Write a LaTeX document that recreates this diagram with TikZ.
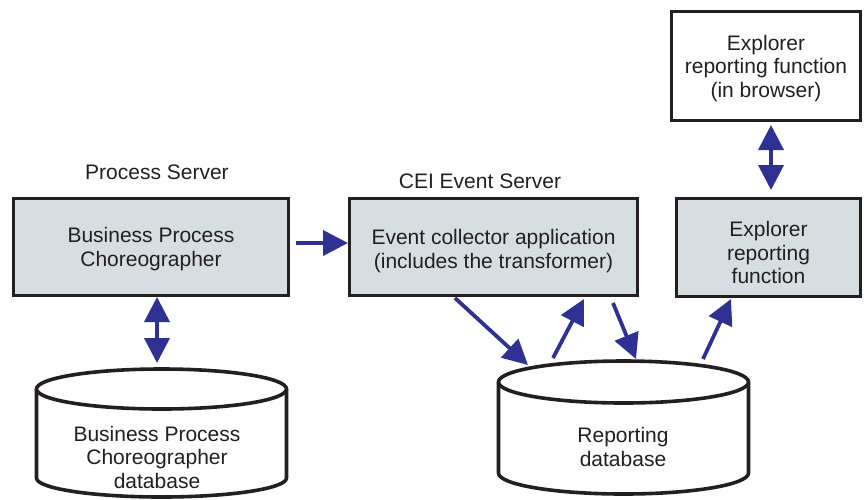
\documentclass[tikz,border=0pt]{standalone}
\usepackage{fontspec}
\setmainfont{Liberation Sans}
\usetikzlibrary{arrows.meta}
\definecolor{boxfill}{HTML}{D7DEE2}
\definecolor{arrowblue}{HTML}{2E3192}
\definecolor{ink}{HTML}{231F20}
\tikzset{
  box/.style={draw=ink, line width=3.6pt, rectangle, align=center, text=ink,
    font=\fontsize{21}{23.5}\selectfont, inner sep=0pt},
  grey/.style={fill=boxfill},
  lbl/.style={text=ink, font=\fontsize{21}{23.5}\selectfont, inner sep=0pt},
  flow/.style={draw=arrowblue, line width=3.8pt, -{Triangle[length=25pt,width=25pt]}, fill=arrowblue},
  dflow/.style={draw=arrowblue, line width=3.8pt, {Triangle[length=25pt,width=25pt]}-{Triangle[length=25pt,width=25pt]}},
  cyl/.style={draw=ink, line width=3.6pt, fill=white}
}
\begin{document}
\begin{tikzpicture}[x=1pt,y=-1pt]
\useasboundingbox (0,0) rectangle (864,499);

% boxes
\node[box,grey,minimum width=275pt,minimum height=97pt] (bpc) at (151,247) {\rule{0pt}{19.5pt}Business Process\\Choreographer};
\node[box,grey,minimum width=288pt,minimum height=97pt] (ec) at (493.5,247) {\rule{0pt}{23.5pt}Event collector application\\(includes the transformer)};
\node[box,grey,minimum width=184pt,minimum height=98pt] (erf) at (768.5,247.5) {\rule{0pt}{25.5pt}Explorer\\reporting\\function};
\node[box,minimum width=189pt,minimum height=109pt] (erb) at (766,66) {\rule{0pt}{19.5pt}Explorer\\reporting function\\(in browser)};

\node[lbl] (ps) at (157,172) {Process Server};
\node[lbl] (cei) at (480,181) {CEI Event Server};

% cylinder 1
\draw[cyl] (36.5,389) -- (36.5,478) arc[start angle=180,end angle=0,x radius=125,y radius=19] -- (286.5,389);
\draw[cyl] (161.5,389) ellipse[x radius=125,y radius=20];
\node[lbl,align=center] (db1) at (157,457) {Business Process\\Choreographer\\database};

% cylinder 2
\draw[cyl] (498.5,382) -- (498.5,473) arc[start angle=180,end angle=0,x radius=125,y radius=21] -- (748.5,382);
\draw[cyl] (623.5,382) ellipse[x radius=125,y radius=21];
\node[lbl,align=center] (db2) at (623,447) {Reporting\\database};

% arrow endpoints
\coordinate (e1) at (296,243);
\coordinate (e2) at (348,243);
\coordinate (a1) at (455,298);
\coordinate (a2) at (528,365);
\coordinate (b1) at (553,358);
\coordinate (b2) at (584,299);
\coordinate (c1) at (613,303);
\coordinate (c2) at (636,359);
\coordinate (d1) at (703,359);
\coordinate (d2) at (731,299);
\coordinate (u1) at (157,297);
\coordinate (u2) at (157,363);
\coordinate (v1) at (771,125);
\coordinate (v2) at (771,190);

\draw[flow] (e1) -- (e2);
\draw[flow] (a1) -- (a2);
\draw[flow] (b1) -- (b2);
\draw[flow] (c1) -- (c2);
\draw[flow] (d1) -- (d2);
\draw[dflow] (u1) -- (u2);
\draw[dflow] (v1) -- (v2);
\end{tikzpicture}
\end{document}
